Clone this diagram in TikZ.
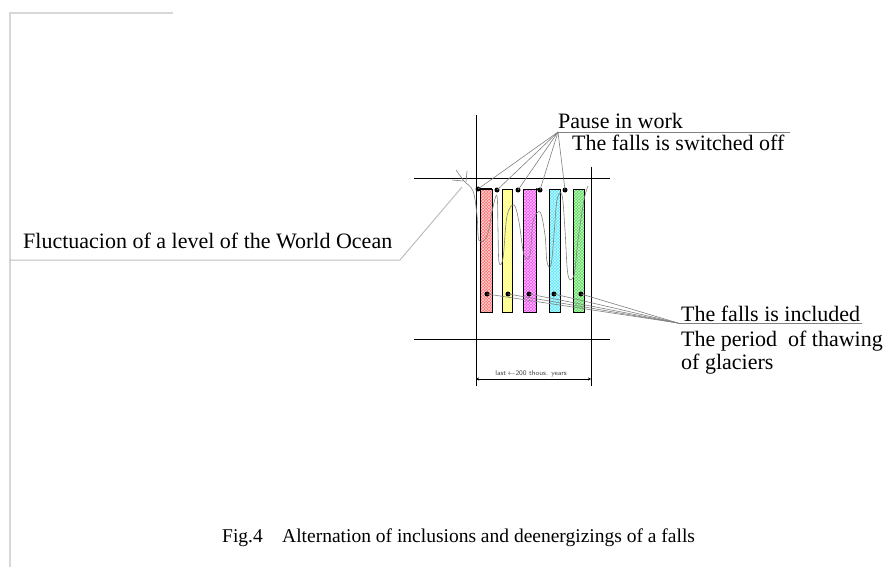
\documentclass[tikz,border=0pt]{standalone}
\usepackage{fontspec}
\setmainfont{Liberation Serif}
\usetikzlibrary{patterns,arrows.meta}
\definecolor{barred}{RGB}{255,110,110}
\definecolor{baryel}{RGB}{255,255,90}
\definecolor{barmag}{RGB}{245,70,245}
\definecolor{barcya}{RGB}{80,230,250}
\definecolor{bargrn}{RGB}{80,220,80}
\definecolor{frame}{RGB}{215,215,215}
\tikzset{
  lbl/.style={anchor=base west,inner sep=0pt,font=\fontsize{22}{22}\selectfont},
  captext/.style={anchor=base west,inner sep=0pt,font=\fontsize{19.5}{20}\selectfont},
  axis/.style={black,line width=1pt},
  leader/.style={gray,line width=0.6pt},
  bar/.style={draw=black,line width=1pt},
  dotm/.style={circle,fill=black,inner sep=0pt,minimum size=5pt},
  wave/.style={gray,line width=0.6pt}
}
\begin{document}
\begin{tikzpicture}[x=1pt,y=-1pt]
\useasboundingbox (0,0) rectangle (889,567);
% page frame remnants
\draw[frame,line width=1.2pt] (173,13) -- (10,13) -- (10,567);
% axes
\draw[axis] (414,178) -- (610,178);
\draw[axis] (414,339) -- (610,339);
\draw[axis] (476,115) -- (476,386);
\draw[axis] (591,167) -- (591,386);
% bars
\foreach \xa/\xb/\c/\n in {480/492/barred/1,502/512/baryel/2,523/536/barmag/3,549/560/barcya/4,573/584/bargrn/5}{
  \fill[\c] (\xa,189) rectangle (\xb,312);
  \fill[pattern=crosshatch,pattern color=white!70!\c] (\xa,189) rectangle (\xb,312);
  \draw[bar] (\xa,189) rectangle (\xb,312);
}
% wavy fluctuation curve
\draw[wave] plot[smooth,tension=0.6] coordinates {(456,170) (464,181) (473,191) (477,215) (479,240) (487,236) (493,207) (497,196) (498,230) (499,262) (503,258) (507,216) (514,205) (519,222) (524,255) (530,255) (533,222) (540,212) (545,235) (547,262) (551,265) (554,235) (557,200) (562,195) (565,230) (568,275) (574,275) (578,240) (584,200) (588,186)};
\draw[wave] (452,180) -- (463,181);
\draw[wave] (467,171) -- (466,182);
% top dots
\node[dotm] (t1) at (478,189) {};
\node[dotm] (t2) at (497,190) {};
\node[dotm] (t3) at (518,190) {};
\node[dotm] (t4) at (540,190) {};
\node[dotm] (t5) at (565,190) {};
\draw[line width=1.6pt] (t1.center) -- (492,189);
\draw[line width=1.6pt] (536,189) -- (t4.center);
% bottom dots
\node[dotm] (b1) at (487,294) {};
\node[dotm] (b2) at (508,294) {};
\node[dotm] (b3) at (529,294) {};
\node[dotm] (b4) at (554,294) {};
\node[dotm] (b5) at (581,294) {};
% labels
\node[lbl] (pause) at (558,129) {Pause in work};
\node[lbl] (off) at (572,151) {The falls is switched off};
\coordinate (pc) at (558,132);
\coordinate (pe) at (790,132);
\draw[leader] (pc) -- (pe);
\foreach \d in {t1,t2,t3,t4,t5} \draw[leader] (pc) -- (\d.center);
\node[lbl] (incl) at (681,321) {The falls is included};
\node[lbl] (period) at (681,346) {The period\ \ of thawing};
\node[lbl] (glac) at (681,369) {of glaciers};
\coordinate (ic) at (678,323);
\coordinate (ie) at (862,323);
\draw[leader] (ic) -- (ie);
\foreach \d in {b1,b2,b3,b4,b5} \draw[leader] (ic) -- (\d.center);
\node[lbl] (fluct) at (23,248) {Fluctuacion of a level of the World Ocean};
\coordinate (fa) at (10,260);
\coordinate (fb) at (400,260);
\coordinate (fc) at (462,187);
\draw[frame!70!gray,line width=1pt] (fa) -- (fb) -- (fc);
% scale bar
\coordinate (sa) at (476,379);
\coordinate (sb) at (591,379);
\draw[black,line width=1pt,{Stealth[length=3pt,width=3pt]}-{Stealth[length=3pt,width=3pt]}] (sa) -- (sb);
\node[inner sep=0pt,font=\fontsize{7}{7}\selectfont\sffamily,text=black!75] (scl) at (531,373.5) {last{\(\,\leftarrow\)}200 thous. years};
% caption
\node[captext] (fig) at (222,542) {Fig.4};
\node[captext] (capt) at (282,542) {Alternation of inclusions and deenergizings of a falls};
\end{tikzpicture}
\end{document}
